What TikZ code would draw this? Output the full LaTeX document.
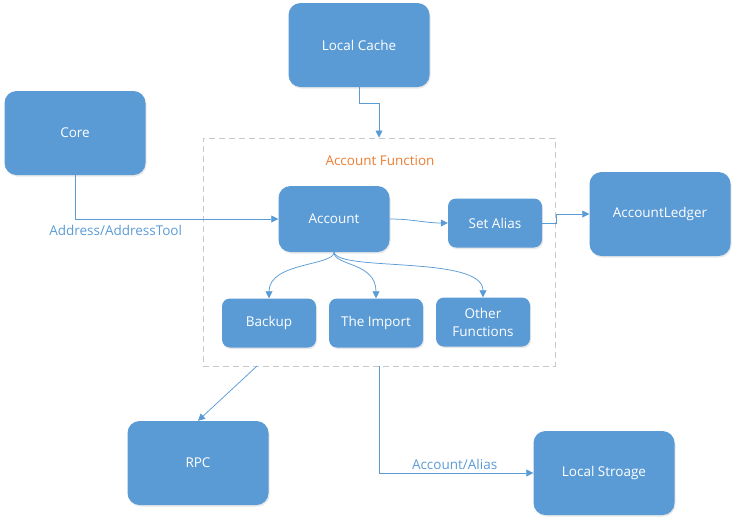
\documentclass[tikz,border=0pt]{standalone}
\usepackage{fontspec}
\setmainfont{Open Sans}
\usepackage{xcolor}
\usepackage{tikz}
\usetikzlibrary{arrows.meta}
\usetikzlibrary{positioning}
\usetikzlibrary{shadows}
\definecolor{bleu}{HTML}{5B9BD5}
\definecolor{orange}{HTML}{ED7D31}
\definecolor{gris}{HTML}{C8C8C8}
\tikzset{
    bloc/.style = {rectangle, rounded corners=12pt, fill=bleu, text=white,
        minimum width=141pt, minimum height=84pt, align=center,
        drop shadow={opacity=0.18, shadow xshift=1pt, shadow yshift=-1.5pt},
        font=\fontsize{13.5}{15}\selectfont},
    petit/.style = {bloc, rounded corners=8pt, minimum width=94pt, minimum height=49pt},
    cadre/.style = {rectangle, draw=gris, dashed, dash pattern=on 6pt off 4pt,
        line width=0.9pt, minimum width=352pt, minimum height=228pt},
    lien/.style = {draw=bleu, line width=0.75pt, ->},
    etiquette/.style = {text=bleu, font=\fontsize{13.5}{15}\selectfont},
    >={Triangle[length=7pt, width=7pt]}
}

\begin{document}
\begin{tikzpicture}[x=1pt, y=-1pt]
                \useasboundingbox (0,0) rectangle (737,523);
                \node[cadre] (fonction) at (379,252) {};
                \node[text=orange, font=\fontsize{13.5}{15}\selectfont] (titre) at (380,161) {Account Function};
                \node[bloc] (cache) at (359,45) {Local Cache};
                \node[bloc] (core) at (75,133) {Core};
                \node[bloc, minimum width=111pt, minimum height=66pt] (compte) at (334,219) {Account};
                \node[petit] (alias) at (495,223) {Set Alias};
                \node[bloc] (ledger) at (660,214) {AccountLedger};
                \node[petit] (backup) at (269,323) {Backup};
                \node[petit] (import) at (376,323) {The Import};
                \node[petit] (autres) at (483,322) {Other\\[3pt]Functions};
                \node[bloc] (rpc) at (198,463) {RPC};
                \node[bloc] (stockage) at (604,473) {Local Stroage};
                \coordinate (sortie) at (257,366);
                % liens
                \draw[lien] (cache.south) -- ++(0,16) -| (fonction.north);
                \draw[lien] (core.south) |- (compte.west)
                    node[etiquette, pos=0.6, below=3pt] (adresse) {Address/AddressTool};
                \draw[lien] (compte.east) to[out=0, in=180] (alias.west);
                \draw[lien] (alias.east) -- ++(14,0) |- (ledger.west);
                \draw[lien] (compte.south) .. controls (334,266) and (269,262) .. (backup.north);
                \draw[lien] (compte.south) .. controls (334,266) and (376,262) .. (import.north);
                \draw[lien] (compte.south) .. controls (338,272) and (483,255) .. (autres.north);
                \draw[lien] (sortie) -- (rpc.north);
                \draw[lien] (fonction.south) |- (stockage.west)
                    node[etiquette, pos=0.745, above=0pt] (aliasdonnee) {Account/Alias};
            \end{tikzpicture}
\end{document}
